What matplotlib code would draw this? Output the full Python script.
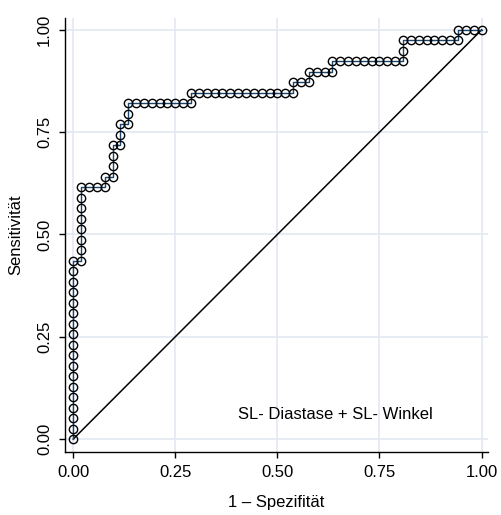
import matplotlib
matplotlib.use("Agg")
import matplotlib.pyplot as plt

plt.rcParams["font.family"] = ["Liberation Sans", "DejaVu Sans"]

# ROC-Punkte als Zählwerte (falsch positive, richtig positive)
n_neg = 52
n_pos = 39
fp = [0, 0, 0, 0, 0, 0, 0, 0, 0, 0, 0, 0, 0, 0, 0, 0, 0, 0,
      1, 1, 1, 1, 1, 1, 1, 1,
      2, 3, 4,
      4, 5, 5, 5, 5,
      6, 6, 6,
      7, 7, 7,
      8, 9, 10, 11, 12, 13, 14, 15,
      15, 16, 17, 18, 19, 20, 21, 22, 23, 24, 25, 26, 27, 28,
      28, 29, 30,
      30, 31, 32, 33,
      33, 34, 35, 36, 37, 38, 39, 40, 41, 42,
      42, 42,
      43, 44, 45, 46, 47, 48, 49,
      49, 50, 51, 52]
tp = [0, 1, 2, 3, 4, 5, 6, 7, 8, 9, 10, 11, 12, 13, 14, 15, 16, 17,
      17, 18, 19, 20, 21, 22, 23, 24,
      24, 24, 24,
      25, 25, 26, 27, 28,
      28, 29, 30,
      30, 31, 32,
      32, 32, 32, 32, 32, 32, 32, 32,
      33, 33, 33, 33, 33, 33, 33, 33, 33, 33, 33, 33, 33, 33,
      34, 34, 34,
      35, 35, 35, 35,
      36, 36, 36, 36, 36, 36, 36, 36, 36, 36,
      37, 38,
      38, 38, 38, 38, 38, 38, 38,
      39, 39, 39, 39]
ticks = [0, 0.25, 0.5, 0.75, 1]
tick_labels = ["0.00", "0.25", "0.50", "0.75", "1.00"]
label = "SL- Diastase + SL- Winkel"

x = [v / n_neg for v in fp]
y = [v / n_pos for v in tp]

fig = plt.figure(figsize=(5.01, 5.15), dpi=100)
ax = fig.add_axes([0.1297, 0.1223, 0.8443, 0.8427])

grid_col = "#e3e8f2"
for t in ticks:
    ax.axhline(t, color=grid_col, lw=1.2, zorder=0)
    ax.axvline(t, color=grid_col, lw=1.2, zorder=0)

ax.plot([0, 1], [0, 1], color="black", lw=1.1, zorder=2)
ax.plot(x, y, color="#1a476f", lw=1.0, zorder=3)
ax.plot(x, y, ls="none", marker="o", ms=6.0, mfc="none", mec="black",
        mew=1.0, zorder=4)

ax.text(0.643, 0.061, label, ha="center", va="center", fontsize=12)

ax.set_xlim(-0.0203, 1.0157)
ax.set_ylim(-0.0318, 1.029)
ax.set_xticks(ticks)
ax.set_xticklabels(tick_labels)
ax.set_yticks(ticks)
ax.set_yticklabels(tick_labels, rotation=90, va="center")
ax.tick_params(direction="out", length=4.3, width=1.0, labelsize=12,
               pad=5, color="black")

for s in ["top", "right"]:
    ax.spines[s].set_visible(False)
for s in ["left", "bottom"]:
    ax.spines[s].set_linewidth(1.0)

ax.set_xlabel("1 – Spezifität", fontsize=12, labelpad=11)
ax.set_ylabel("Sensitivität", fontsize=12, labelpad=10)

fig.savefig("out.png", dpi=100)
